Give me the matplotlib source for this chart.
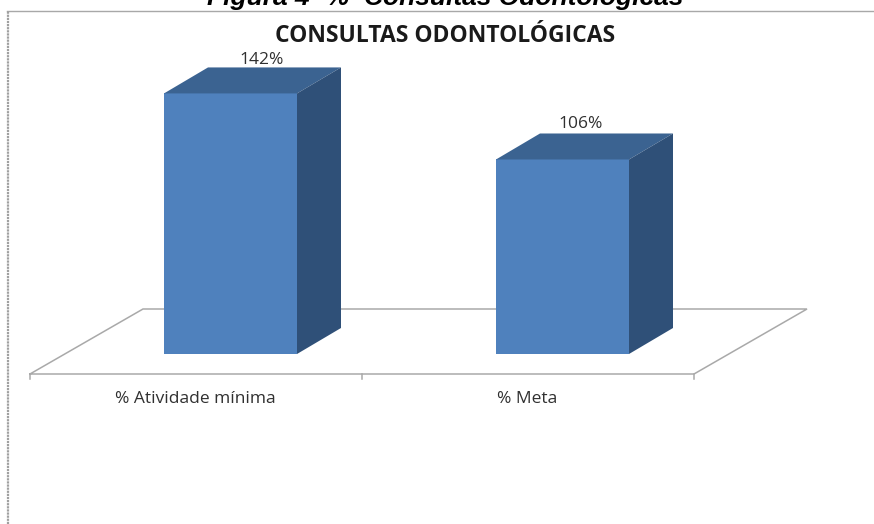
import matplotlib
matplotlib.use("Agg")
import matplotlib.pyplot as plt
from matplotlib.patches import Polygon

categories = ["% Atividade mínima", "% Meta"]
values = [142, 106]
value_labels = ["142%", "106%"]
caption = "Figura 4- %  Consultas Odontológicas"
chart_title = "CONSULTAS ODONTOLÓGICAS"

W, H = 874, 524
PX_X = 332.0   # pixels per category
PX_Y = 1.835   # pixels per percent
X0, Y0 = 230.5, 354.0  # pixel position of category 0, value 0
LABEL_SHIFT = [31.5, 18.5]  # value-label offset from bar centre, pixels

fig = plt.figure(figsize=(W / 100, H / 100), dpi=100, facecolor="white")
ax = fig.add_axes([0, 0, 1, 1])
ax.set_xlim(-X0 / PX_X, (W - X0) / PX_X)
ax.set_ylim((Y0 - H) / PX_Y, Y0 / PX_Y)
ax.axis("off")

def dx(px): return px / PX_X
def dy(px): return px / PX_Y

GRID = "#a9a9a9"
bw = dx(133)
ddx, ddy = dx(44), dy(26)

# floor
fl, fr = -0.5 - dx(34.5), 1.5 - dx(34.5)
fb, bb = -dy(20), dy(45)
sh = dx(113)
ax.plot([fl, fl + sh, fr + sh, fr, fl], [fb, bb, bb, fb, fb],
        color=GRID, lw=1.1, solid_joinstyle="miter", zorder=1)
for t in (fl, (fl + fr) / 2, fr):
    ax.plot([t, t], [fb, fb - dy(5)], color=GRID, lw=1.1, zorder=1)

# bars
for i, v in enumerate(values):
    l, r = i - bw / 2, i + bw / 2
    ax.add_patch(Polygon([(l, 0), (r, 0), (r, v), (l, v)], fc="#4f81bd", ec="none", zorder=3))
    ax.add_patch(Polygon([(l, v), (r, v), (r + ddx, v + ddy), (l + ddx, v + ddy)],
                         fc="#3b6391", ec="none", zorder=3))
    ax.add_patch(Polygon([(r, 0), (r + ddx, ddy), (r + ddx, v + ddy), (r, v)],
                         fc="#2f5078", ec="none", zorder=3))
    ax.text(i + dx(LABEL_SHIFT[i]), v + ddy + dy(7 if i == 0 else 9), value_labels[i],
            ha="center", va="center", fontsize=12.5, color="#303030", family="Open Sans", zorder=4)
    ax.text(i - dx(35), -dy(45), categories[i], ha="center", va="center",
            fontsize=12.5, color="#303030", family="Open Sans", zorder=4)

# frame
fig.add_artist(plt.Line2D([7 / W, 1], [1 - 10.5 / H] * 2, color="#a8a8a8", lw=1.0))
fig.add_artist(plt.Line2D([7.5 / W] * 2, [0, 1 - 10.5 / H], color="#a0a0a0", lw=1.6, ls=(0, (1, 0.4))))

fig.text(445 / W, 1 - 36 / H, chart_title, ha="center", va="center",
         fontsize=16.5, fontweight="bold", family="Open Sans", color="#1a1a1a")
fig.text(445 / W, 1 - 4.5 / H, caption, ha="center", va="baseline",
         fontsize=19, fontweight="bold", fontstyle="italic", family="Liberation Sans", color="black")

fig.savefig("out.png", dpi=100, facecolor="white")
